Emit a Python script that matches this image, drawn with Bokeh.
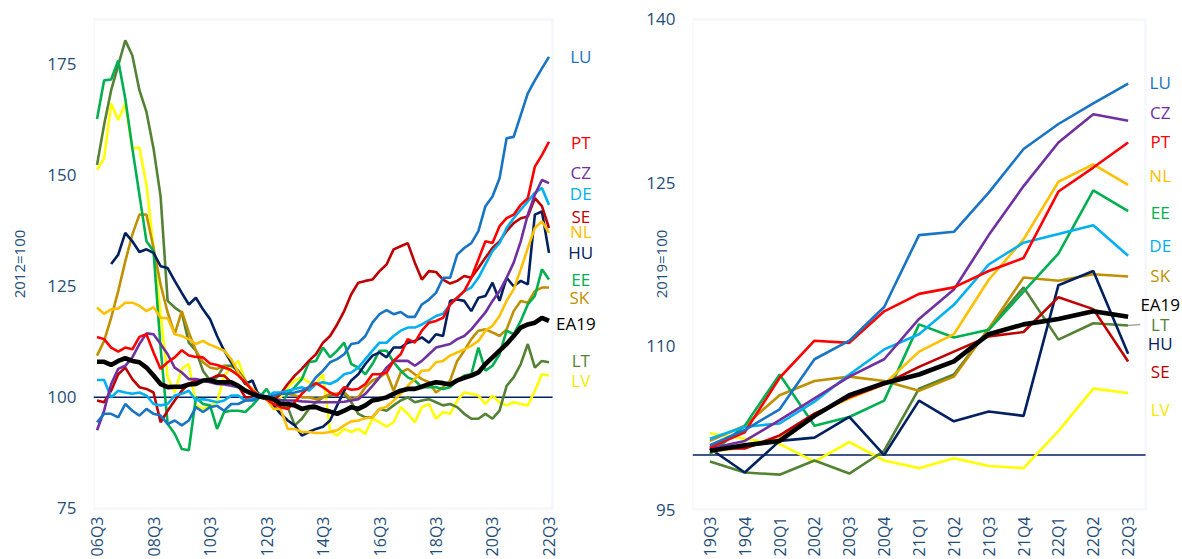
import numpy as np
from bokeh.plotting import figure
from bokeh.models import Range1d, FixedTicker, Label, BoxAnnotation
from bokeh.layouts import row
from bokeh.embed import file_html
from bokeh.resources import INLINE

nan = float("nan")

# ---------------- data: left panel (2012=100), 06Q3 .. 22Q3 ----------------
quarters_long = [f"{(6 + (i + 2) // 4):02d}Q{(i + 2) % 4 + 1}" for i in range(65)]
long_tick_quarters = ["06Q3", "08Q3", "10Q3", "12Q3", "14Q3", "16Q3", "18Q3", "20Q3", "22Q3"]

lu_long = [94.4, 96.3, 96.3, 95.5, 98.5, 97.0, 95.9, 97.4, 96.3, 95.9, 94.0, 94.8, 93.7, 94.8, 97.8, 96.7,
           97.8, 98.1, 97.0, 98.5, 98.5, 99.3, 99.3, 100.0, 100.0, 100.4, 100.8, 100.8, 101.1, 101.5, 102.3, 104.5,
           106.0, 107.9, 108.6, 109.7, 112.0, 112.3, 113.8, 116.8, 118.7, 119.6, 118.7, 119.2, 118.1, 118.1, 120.9, 122.0,
           123.5, 126.9, 126.9, 132.1, 133.6, 134.7, 137.4, 143.0, 145.2, 149.3, 158.3, 158.6, 163.5, 168.4, 171.3, 174.0, 176.6]
pt_long = [113.6, 113.1, 111.2, 110.3, 111.2, 110.8, 113.6, 114.2, 110.1, 106.4, 107.9, 109.0, 110.6, 109.4, 109.1, 109.0,
           107.6, 107.3, 106.7, 106.1, 104.9, 103.4, 101.5, 100.4, 99.6, 98.5, 97.8, 97.4, 98.9, 100.8, 102.3, 103.2,
           102.3, 101.1, 100.4, 102.3, 101.7, 101.9, 103.0, 105.2, 105.2, 105.6, 108.2, 109.7, 113.1, 112.3, 115.0, 116.8,
           117.2, 117.9, 120.9, 122.4, 123.9, 126.9, 131.0, 135.1, 134.7, 138.5, 140.3, 141.1, 143.3, 144.8, 151.9, 154.5, 157.5]
cz_long = [92.6, 97.0, 103.0, 106.4, 107.1, 109.0, 112.0, 114.4, 114.2, 112.0, 109.7, 106.7, 105.6, 104.1, 104.1, 103.8,
           103.4, 103.0, 102.9, 102.6, 102.3, 101.5, 101.1, 100.4, 100.0, 99.6, 99.4, 99.3, 99.3, 99.1, 99.0, 98.9,
           98.9, 98.9, 98.9, 99.0, 99.3, 99.6, 100.8, 102.6, 104.5, 106.7, 108.2, 108.2, 108.2, 107.1, 108.2, 109.7,
           111.2, 111.6, 112.0, 113.1, 113.8, 115.3, 117.2, 119.1, 121.7, 123.9, 126.9, 130.3, 135.1, 141.1, 145.6, 148.9, 148.2]
de_long = [103.9, 103.9, 100.0, 101.5, 101.1, 100.8, 101.1, 100.4, 98.5, 98.2, 98.5, 100.4, 100.8, 101.5, 99.3, 99.6,
           99.3, 98.9, 99.3, 100.4, 100.4, 99.3, 99.6, 100.8, 100.0, 101.1, 101.1, 101.5, 101.9, 102.3, 101.5, 103.0,
           103.4, 103.0, 103.8, 105.2, 105.6, 106.7, 108.6, 110.5, 112.3, 112.3, 113.8, 115.0, 115.7, 115.7, 116.4, 117.3,
           118.3, 118.8, 120.9, 122.4, 123.9, 124.7, 126.9, 129.9, 132.9, 134.7, 138.1, 140.3, 142.2, 144.1, 146.0, 147.1, 143.3]
se_long = [99.3, 98.9, 101.5, 105.2, 106.7, 104.1, 102.3, 101.9, 101.1, 94.4, 97.0, 99.3, 101.5, 103.0, 103.8, 103.8,
           104.1, 104.9, 104.9, 103.4, 102.6, 100.0, 100.0, 100.0, 100.0, 99.3, 100.8, 103.0, 104.9, 106.4, 108.2, 109.7,
           112.3, 113.8, 116.4, 119.4, 123.2, 125.8, 126.2, 126.5, 128.4, 129.9, 133.3, 134.0, 134.7, 130.3, 126.5, 128.4,
           128.2, 126.5, 125.6, 126.2, 127.3, 126.9, 129.1, 131.4, 133.6, 135.1, 137.4, 139.2, 140.3, 140.7, 144.8, 143.0, 138.1]
nl_long = [120.2, 118.8, 119.8, 120.0, 121.3, 121.3, 120.6, 119.4, 120.3, 117.9, 117.8, 114.2, 113.8, 113.1, 112.0, 112.7,
           111.8, 111.2, 110.5, 108.6, 105.6, 103.4, 101.9, 100.4, 99.6, 97.4, 97.4, 92.9, 92.9, 92.2, 92.2, 92.0,
           92.0, 92.2, 92.6, 93.7, 94.6, 94.8, 95.3, 95.5, 97.4, 97.9, 99.3, 100.8, 102.6, 104.1, 106.0, 106.1,
           107.9, 108.2, 109.4, 110.1, 110.8, 111.6, 112.7, 115.0, 116.1, 118.3, 121.7, 124.3, 128.8, 133.6, 138.1, 139.6, 137.0]
hu_long = [nan, nan, 130.0, 132.1, 137.0, 135.1, 132.7, 133.3, 132.5, 129.5, 129.1, 126.2, 123.5, 120.9, 122.4, 119.8,
           117.6, 113.8, 110.5, 107.9, 105.6, 103.0, 103.8, 100.0, 99.6, 98.2, 96.3, 94.8, 93.7, 91.4, 92.2, 92.9,
           93.4, 94.8, 98.2, 101.5, 103.8, 105.2, 107.5, 109.4, 110.1, 109.0, 111.2, 111.2, 112.3, 112.7, 113.5, 112.3,
           114.2, 113.8, 121.7, 122.0, 121.7, 119.4, 122.4, 122.8, 125.8, 121.7, 126.9, 125.0, 126.2, 125.4, 141.1, 141.8, 132.5]
ee_long = [162.6, 171.3, 171.5, 175.8, 167.2, 156.0, 145.6, 135.1, 132.9, 111.2, 94.0, 91.8, 88.4, 88.1, 100.0, 98.5,
           98.2, 92.9, 96.7, 97.0, 97.0, 96.7, 98.2, 100.0, 101.9, 99.3, 98.2, 100.8, 102.3, 104.1, 107.9, 108.2,
           111.2, 109.0, 110.5, 112.3, 107.5, 106.7, 105.2, 107.5, 110.5, 110.5, 107.9, 106.0, 104.5, 103.8, 102.3, 102.3,
           102.3, 101.9, 102.3, 103.8, 104.9, 105.2, 111.2, 106.0, 107.1, 109.7, 115.0, 114.2, 117.2, 120.9, 122.8, 128.8, 126.5]
sk_long = [109.4, 112.7, 117.9, 123.9, 130.6, 136.6, 141.1, 141.1, 133.6, 125.4, 119.1, 114.2, 119.4, 114.6, 110.5, 107.9,
           106.7, 106.4, 107.1, 106.0, 105.2, 103.0, 101.9, 100.0, 99.6, 99.6, 100.8, 100.8, 100.4, 100.0, 100.0, 99.6,
           100.0, 100.8, 100.8, 101.1, 99.6, 100.0, 102.3, 103.8, 104.5, 105.6, 101.5, 105.6, 106.4, 105.2, 104.1, 103.4,
           101.1, 102.3, 103.8, 108.2, 110.5, 113.1, 115.0, 115.3, 114.6, 113.8, 115.3, 119.4, 121.7, 121.3, 123.9, 124.7, 124.7]
ea19_long = [108.0, 108.0, 107.3, 108.2, 108.8, 108.2, 107.9, 106.7, 104.9, 103.0, 102.3, 102.4, 102.4, 102.9, 103.0, 103.8,
             103.9, 103.4, 103.4, 103.4, 102.6, 101.5, 100.8, 100.2, 100.0, 99.6, 98.5, 98.5, 98.2, 97.4, 97.8, 97.8,
             97.2, 96.8, 96.3, 97.0, 97.8, 97.4, 98.2, 99.3, 99.6, 100.0, 100.8, 101.5, 101.9, 101.9, 102.4, 103.0,
             103.4, 103.2, 102.9, 103.8, 104.4, 104.9, 105.6, 107.5, 109.0, 110.5, 112.0, 113.8, 115.7, 116.4, 116.8, 117.9, 117.2]
lt_long = [152.3, 161.3, 169.1, 174.7, 180.3, 176.9, 169.1, 164.2, 156.0, 145.2, 121.7, 120.2, 119.1, 112.3, 110.5, 106.0,
           103.8, 104.5, 107.1, 107.1, 106.0, 103.8, 101.5, 100.8, 100.0, 99.3, 98.5, 97.8, 93.7, 95.2, 97.4, 98.9,
           100.0, 100.4, 100.8, 100.8, 98.9, 96.3, 95.5, 95.5, 97.4, 97.0, 98.2, 99.3, 100.0, 98.9, 99.3, 99.6,
           98.9, 98.2, 98.5, 97.8, 96.3, 95.2, 95.2, 96.3, 95.2, 97.0, 102.6, 104.5, 107.5, 112.0, 106.7, 108.2, 107.9]
lv_long = [151.2, 153.8, 166.1, 162.4, 166.1, 156.0, 156.2, 147.8, 133.6, 118.7, 104.5, 101.1, 106.4, 107.5, 98.2, 97.4,
           98.2, 98.9, 104.9, 106.7, 108.2, 103.8, 101.5, 100.4, 100.0, 99.3, 100.0, 102.3, 103.8, 104.5, 103.4, 103.0,
           105.2, 92.6, 91.4, 92.9, 92.2, 92.9, 91.8, 95.2, 94.4, 93.4, 94.4, 97.8, 96.3, 94.4, 97.8, 98.5,
           95.2, 96.7, 96.3, 99.3, 101.1, 100.8, 100.4, 98.5, 100.4, 98.9, 98.2, 98.9, 98.5, 98.2, 101.5, 105.2, 104.9]

# ---------------- data: right panel (2019=100), 19Q3 .. 22Q3 ----------------
quarters_short = ["19Q3", "19Q4", "20Q1", "20Q2", "20Q3", "20Q4", "21Q1", "21Q2", "21Q3", "21Q4", "22Q1", "22Q2", "22Q3"]

lu_short = [100.9, 102.3, 104.2, 108.8, 110.5, 113.6, 120.2, 120.5, 124.1, 128.1, 130.4, 132.3, 134.1]
cz_short = [100.6, 101.3, 103.2, 105.2, 107.2, 108.8, 112.5, 115.2, 120.2, 124.7, 128.7, 131.3, 130.7]
pt_short = [100.7, 102.1, 107.1, 110.5, 110.3, 113.2, 114.8, 115.4, 116.9, 118.1, 124.2, 126.4, 128.7]
nl_short = [100.3, 100.7, 101.5, 103.8, 105.2, 106.5, 109.5, 111.1, 116.1, 119.8, 125.1, 126.7, 124.8]
ee_short = [100.1, 102.7, 107.4, 102.7, 103.5, 105.0, 112.0, 110.8, 111.5, 115.0, 118.5, 124.3, 122.4]
de_short = [101.5, 102.6, 102.9, 104.9, 107.4, 109.7, 111.1, 113.8, 117.5, 119.5, 120.3, 121.1, 118.3]
sk_short = [101.3, 102.7, 105.5, 106.8, 107.2, 106.8, 105.9, 107.2, 111.6, 116.3, 116.0, 116.6, 116.4]
ea19_short = [100.4, 100.9, 101.3, 103.6, 105.5, 106.6, 107.4, 108.6, 111.1, 112.0, 112.5, 113.2, 112.7]
lt_short = [99.4, 98.4, 98.2, 99.5, 98.3, 100.4, 106.1, 107.4, 111.6, 115.4, 110.6, 112.1, 111.9]
hu_short = [100.6, 98.4, 101.3, 101.6, 103.5, 100.0, 105.0, 103.1, 104.0, 103.6, 115.6, 116.9, 109.3]
se_short = [100.6, 100.6, 101.8, 103.8, 105.3, 106.5, 108.1, 109.5, 110.9, 111.3, 114.5, 113.4, 108.6]
lv_short = [102.0, 101.5, 101.0, 99.4, 101.2, 99.5, 98.8, 99.7, 99.0, 98.8, 102.2, 106.1, 105.7]

countries = ["LV", "LT", "SK", "EE", "HU", "NL", "SE", "DE", "CZ", "PT", "LU", "EA19"]

# ---------------- styles and label placement ----------------
colors = {"LU": "#1874c4", "PT": "#ff0000", "CZ": "#7030a0", "DE": "#00b0f0", "SE": "#c00000",
          "NL": "#ffc000", "HU": "#002060", "EE": "#00b050", "SK": "#bf9000", "EA19": "#000000",
          "LT": "#548235", "LV": "#ffff00"}
label_colors = dict(colors, LV="#f5ea00")

left_label_pos = {"LU": (68.5, 176.7), "PT": (68.5, 157.4), "CZ": (68.5, 150.5), "DE": (68.5, 145.8),
                  "SE": (68.5, 140.6), "NL": (68.5, 137.3), "HU": (68.5, 132.6), "EE": (68.5, 126.5),
                  "SK": (68.3, 122.5), "EA19": (67.8, 116.7), "LT": (68.5, 108.2), "LV": (68.5, 103.9)}
right_label_pos = {"LU": (12.92, 134.2), "CZ": (12.92, 131.5), "PT": (12.92, 128.8), "NL": (12.92, 125.7),
                   "EE": (12.92, 122.3), "DE": (12.92, 119.2), "SK": (12.92, 116.5), "EA19": (12.92, 113.8),
                   "LT": (12.92, 112.0), "HU": (12.92, 110.2), "SE": (12.92, 107.7), "LV": (12.92, 104.2)}

long_series = {"LU": lu_long, "PT": pt_long, "CZ": cz_long, "DE": de_long, "SE": se_long, "NL": nl_long,
               "HU": hu_long, "EE": ee_long, "SK": sk_long, "EA19": ea19_long, "LT": lt_long, "LV": lv_long}
short_series = {"LU": lu_short, "PT": pt_short, "CZ": cz_short, "DE": de_short, "SE": se_short, "NL": nl_short,
                "HU": hu_short, "EE": ee_short, "SK": sk_short, "EA19": ea19_short, "LT": lt_short, "LV": lv_short}

FONT = "Open Sans"
TICK_COLOR = "#1f4e79"
BOX_COLOR = "#dbe5f1"


def style(p, yticks, box, title, title_standoff):
    p.outline_line_color = None
    p.xgrid.visible = False
    p.ygrid.visible = False
    for ax in (p.xaxis[0], p.yaxis[0]):
        ax.axis_line_color = None
        ax.major_tick_line_color = None
        ax.minor_tick_line_color = None
        ax.major_tick_out = 0
        ax.major_tick_in = 0
        ax.minor_tick_out = 0
        ax.major_label_text_font = FONT
        ax.major_label_text_color = TICK_COLOR
    p.yaxis[0].ticker = FixedTicker(ticks=yticks)
    p.yaxis[0].major_label_text_font_size = "17px"
    p.yaxis[0].major_label_standoff = 17
    p.yaxis[0].axis_label = title
    p.yaxis[0].axis_label_standoff = title_standoff
    p.yaxis[0].axis_label_text_font = FONT
    p.yaxis[0].axis_label_text_font_style = "normal"
    p.yaxis[0].axis_label_text_font_size = "15px"
    p.yaxis[0].axis_label_text_color = TICK_COLOR
    p.xaxis[0].major_label_text_font_size = "16px"
    p.xaxis[0].major_label_orientation = np.pi / 2
    p.xaxis[0].major_label_standoff = 6
    x0, x1, y0, y1 = box
    # plot-area border
    p.add_layout(BoxAnnotation(left=x0, right=x1, bottom=y0, top=y1, fill_alpha=0,
                               line_color=BOX_COLOR, line_width=2.5, level="underlay"))
    # reference line at 100
    p.line([x0, x1], [100, 100], line_color="#002060", line_width=1.5)


def draw(p, xs, series, label_pos, lw):
    for c in countries:
        w = lw + 2.0 if c == "EA19" else lw
        p.line(xs, series[c], line_color=colors[c], line_width=w)
    for c in countries:
        x, y = label_pos[c]
        p.add_layout(Label(x=x, y=y, text=c, text_align="center", text_baseline="middle",
                           text_font=FONT, text_font_size="17px", text_color=label_colors[c]))


# ---------------- left panel ----------------
x_long = list(range(len(quarters_long)))
p1 = figure(width=628, height=559, x_range=Range1d(-0.5, 75.26), y_range=Range1d(74.55, 185.45),
            output_backend="svg", toolbar_location=None,
            min_border_left=93, min_border_right=0, min_border_top=17, min_border_bottom=47)
style(p1, [75, 100, 125, 150, 175], (-0.5, 64.5, 75, 185), "2012=100", 15)
tick_idx = [quarters_long.index(q) for q in long_tick_quarters]
p1.xaxis[0].ticker = FixedTicker(ticks=tick_idx)
p1.xaxis[0].major_label_overrides = {i: quarters_long[i] for i in tick_idx}
draw(p1, x_long, long_series, left_label_pos, 2.6)

# ---------------- right panel ----------------
x_short = list(range(len(quarters_short)))
p2 = figure(width=554, height=559, x_range=Range1d(-0.5, 13.56), y_range=Range1d(94.91, 140.18),
            output_backend="svg", toolbar_location=None,
            min_border_left=64, min_border_right=0, min_border_top=17, min_border_bottom=47)
style(p2, [95, 110, 125, 140], (-0.5, 12.5, 95, 140), "2019=100", -28)
p2.xaxis[0].ticker = FixedTicker(ticks=x_short)
p2.xaxis[0].major_label_overrides = {i: q for i, q in enumerate(quarters_short)}
# leader line for LT label
p2.line([x_short[-1], 12.35], [lt_short[-1], right_label_pos["LT"][1]], line_color="#a6a6a6", line_width=1.5)
draw(p2, x_short, short_series, right_label_pos, 2.6)

layout = row(p1, p2)
open("out.html", "w").write(file_html(layout, INLINE))
